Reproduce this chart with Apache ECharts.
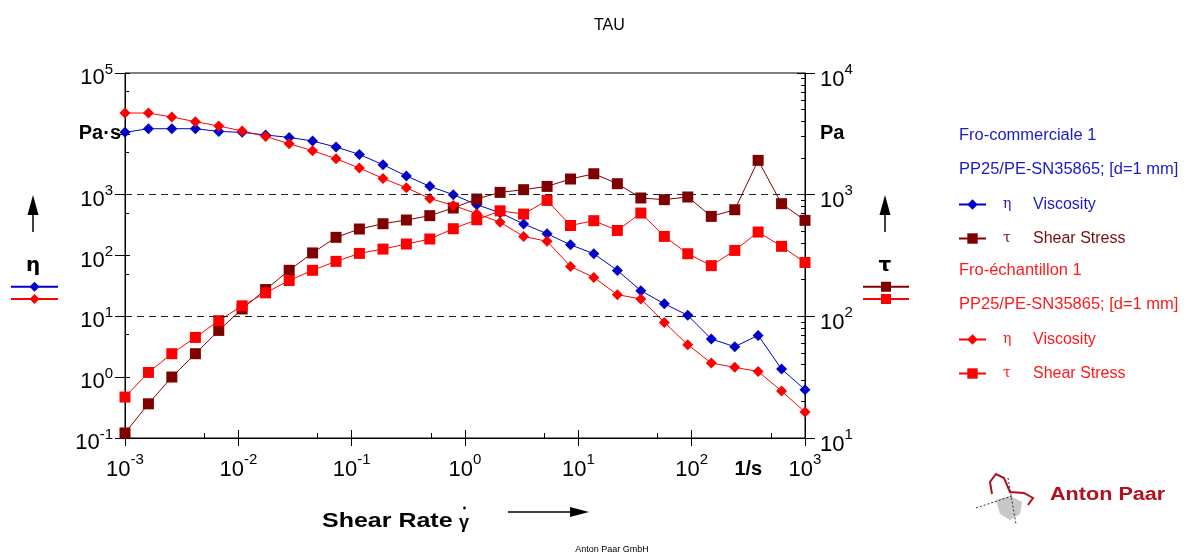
<!DOCTYPE html>
<html>
<head>
<meta charset="utf-8">
<title>TAU</title>
<script src="https://cdn.jsdelivr.net/npm/echarts@6.0.0/dist/echarts.min.js"></script>
<style>
  html, body { margin: 0; padding: 0; background: #fff; }
  #chart { width: 1192px; height: 558px; }
</style>
</head>
<body>
<div id="chart"></div>
<script>
const FONT = '"Liberation Sans", Arial, Helvetica, sans-serif';

// shear rate 1/s (log ramp read from the x positions)
const shearRate = [0.001, 0.00161, 0.00259, 0.00418, 0.00672, 0.0108, 0.0174, 0.0281, 0.0452, 0.0728,
  0.117, 0.189, 0.304, 0.489, 0.788, 1.27, 2.04, 3.29, 5.30, 8.53,
  13.7, 22.1, 35.6, 57.4, 92.4, 149, 240, 386, 621, 1000];
// Fro-commerciale 1
const etaCom = [10570, 12140, 12140, 12140, 10960, 10570, 9570, 8740, 7620, 6070,
  4590, 3110, 2030, 1370, 1000, 684, 505, 330, 228, 150,
  107, 56.9, 26.4, 16.1, 10.4, 4.24, 3.17, 4.86, 1.36, 0.622];
const tauCom = [11.0, 19.1, 31.7, 49.3, 76.6, 115, 166, 239, 332, 446,
  522, 577, 619, 672, 777, 921, 1044, 1099, 1169, 1345,
  1486, 1231, 939, 910, 957, 663, 752, 1914, 843, 615];
// Fro-échantillon 1
const etaSam = [21980, 21980, 18900, 15830, 13450, 11130, 9070, 6880, 5280, 3900,
  2740, 1850, 1300, 868, 666, 486, 352, 206, 171, 66.2,
  43.6, 22.7, 19.3, 7.94, 3.41, 1.71, 1.45, 1.24, 0.592, 0.267];
const tauSam = [21.7, 34.6, 49.3, 67.1, 92.1, 122, 156, 197, 239, 283,
  329, 357, 393, 432, 525, 622, 736, 693, 897, 558,
  611, 508, 706, 454, 327, 261, 348, 493, 376, 277];

// axis decades (exponents) and label places
const xDecades = [-3, -2, -1, 0, 1, 2, 3];
const etaDecades = [-1, 0, 1, 2, 3, 4, 5];
const tauDecades = [1, 2, 3, 4];
const xLabelPos = [-3, -2, -1, 0, 1, 2, 2.5, 3];
const etaLabelPos = [-1, 0, 1, 2, 3, 4, 5];
const tauLabelPos = [1, 2, 3, 3.5, 4];
const guideLines = [1000, 10];

const BLUE = '#0000c8', DRED = '#800000', RED = '#ff0000';

function minorTicks(decades, mults) {
  const out = [];
  decades.slice(0, -1).forEach(d => mults.forEach(m => out.push(d + Math.log10(m))));
  return out;
}
function pairs(ys) { return shearRate.map((x, i) => [x, ys[i]]); }

// decoration axis in log10 space, only ticks / labels
function tickAxis(pos, min, max, ticks, len, inside, extra) {
  return Object.assign({
    type: 'value', position: pos, min: min, max: max,
    axisLine: { show: false, onZero: false }, splitLine: { show: false },
    axisTick: { show: true, inside: inside, length: len, customValues: ticks, lineStyle: { color: '#000', width: 1 } },
    axisLabel: { show: false }
  }, extra || {});
}

const chart = echarts.init(document.getElementById('chart'));

function legendOne(name, top, color) {
  return {
    data: [name], left: 958, top: top, padding: 0, orient: 'vertical',
    itemWidth: 27, itemHeight: 13, selectedMode: false,
    formatter: n => '{g|' + n.charAt(0) + '}{t|' + n.slice(2).replace(/ \(\d\)$/, '') + '}',
    textStyle: {
      color: color, fontFamily: FONT, fontSize: 16,
      rich: {
        g: { fontFamily: '"DejaVu Serif", serif', fontSize: 14, color: color, width: 30, padding: [0, 0, 0, 12] },
        t: { fontFamily: FONT, fontSize: 16, color: color }
      }
    }
  };
}
function header(text, top, color) {
  return { type: 'text', x: 959, y: top, scaleX: 1.03,
    style: { text: text, fill: color, font: '16px ' + FONT, verticalAlign: 'middle' } };
}

const option = {
  animation: false,
  textStyle: { fontFamily: FONT },
  title: { text: 'TAU', left: 589, top: 13, textStyle: { fontFamily: FONT, fontSize: 16, fontWeight: 'normal', color: '#000' } },
  grid: { left: 125, right: 387, top: 73, bottom: 120, containLabel: false, outerBoundsMode: 'none',
    show: true, borderColor: '#000', borderWidth: 1 },
  legend: [
    legendOne('η Viscosity (1)', 196.5, '#1a1ac8'),
    legendOne('τ Shear Stress (1)', 230.5, '#7a0c0c'),
    legendOne('η Viscosity (2)', 331.5, '#ff1a1a'),
    legendOne('τ Shear Stress (2)', 365.5, '#ff1a1a'),
    { data: ['η Viscosity (1)', 'η Viscosity (2)'], left: 10, top: 280.5, orient: 'vertical', padding: 0,
      itemWidth: 47, itemHeight: 12.5, itemGap: 1, selectedMode: false, formatter: () => '' },
    { data: ['τ Shear Stress (1)', 'τ Shear Stress (2)'], left: 862, top: 280.5, orient: 'vertical', padding: 0,
      itemWidth: 46, itemHeight: 12.5, itemGap: 1, selectedMode: false, formatter: () => '' }
  ],
  xAxis: [
    { type: 'log', min: 0.001, max: 1000, show: false },
    tickAxis('bottom', -3, 3, xDecades, 8, false, {
      axisLine: { show: true, onZero: false, lineStyle: { color: '#000', width: 1 } },
      axisLabel: {
        show: true, customValues: xLabelPos, margin: 14, color: '#000',
        formatter: v => v === 2.5 ? '{u|1/s}' : '{b|10}{e|' + v + '}',
        rich: {
          b: { fontFamily: FONT, fontSize: 22, lineHeight: 22, padding: [13, 0, 0, 0], color: '#000' },
          e: { fontFamily: FONT, fontSize: 15, lineHeight: 15, verticalAlign: 'top', color: '#000' },
          u: { fontFamily: FONT, fontSize: 20, fontWeight: 'bold', lineHeight: 22, padding: [13, 0, 0, 0], color: '#000' }
        }
      }
    }),
    tickAxis('bottom', -3, 3, xDecades, 8, true),
    tickAxis('bottom', -3, 3, minorTicks(xDecades, [5]), 5, true)
  ],
  yAxis: [
    { type: 'log', min: 0.1, max: 100000, position: 'left', show: false },
    { type: 'log', min: 10, max: 10000, position: 'right', show: false },
    tickAxis('left', -1, 5, etaDecades, 10, false, {
      axisLine: { show: true, onZero: false, lineStyle: { color: '#000', width: 1 } },
      axisLabel: {
        show: true, customValues: etaLabelPos, margin: 4, color: '#000',
        formatter: v => v === 4 ? '{u|Pa·s}' : '{b|10}{e|' + v + '}',
        rich: {
          b: { fontFamily: FONT, fontSize: 22, lineHeight: 22, padding: [10, 0, 0, 0], color: '#000' },
          e: { fontFamily: FONT, fontSize: 15, lineHeight: 15, verticalAlign: 'top', padding: [0, 8, 0, 0], color: '#000' },
          u: { fontFamily: FONT, fontSize: 20, fontWeight: 'bold', lineHeight: 20, color: '#000' }
        }
      }
    }),
    tickAxis('left', -1, 5, etaDecades, 5, true),
    tickAxis('left', -1, 5, minorTicks(etaDecades, [5]), 4, true),
    tickAxis('right', 1, 4, tauDecades, 10, false, {
      axisLine: { show: true, onZero: false, lineStyle: { color: '#000', width: 1 } },
      axisLabel: {
        show: true, customValues: tauLabelPos, margin: 15, color: '#000',
        formatter: v => v === 3.5 ? '{u|Pa}' : '{b|10}{e|' + v + '}',
        rich: {
          b: { fontFamily: FONT, fontSize: 22, lineHeight: 22, padding: [13, 0, 0, 0], color: '#000' },
          e: { fontFamily: FONT, fontSize: 15, lineHeight: 15, verticalAlign: 'top', color: '#000' },
          u: { fontFamily: FONT, fontSize: 20, fontWeight: 'bold', lineHeight: 20, color: '#000' }
        }
      }
    }),
    tickAxis('right', 1, 4, tauDecades, 8, true),
    tickAxis('right', 1, 4, minorTicks(tauDecades, [2, 3, 4, 5, 6, 7, 8, 9]), 4, true)
  ],
  series: [
    {
      name: 'η Viscosity (1)', type: 'line', xAxisIndex: 0, yAxisIndex: 0, data: pairs(etaCom),
      symbol: 'diamond', symbolSize: 11, color: BLUE, lineStyle: { width: 1, color: BLUE },
      itemStyle: { color: BLUE },
      markLine: {
        silent: true, symbol: ['none', 'none'], label: { show: false },
        lineStyle: { color: '#222', width: 1, type: [7, 5] },
        data: guideLines.map(v => ({ yAxis: v }))
      }
    },
    {
      name: 'τ Shear Stress (1)', type: 'line', xAxisIndex: 0, yAxisIndex: 1, data: pairs(tauCom),
      symbol: 'rect', symbolSize: 11, color: DRED, lineStyle: { width: 1, color: DRED },
      itemStyle: { color: DRED }
    },
    {
      name: 'η Viscosity (2)', type: 'line', xAxisIndex: 0, yAxisIndex: 0, data: pairs(etaSam),
      symbol: 'diamond', symbolSize: 11, color: RED, lineStyle: { width: 1, color: RED },
      itemStyle: { color: RED }
    },
    {
      name: 'τ Shear Stress (2)', type: 'line', xAxisIndex: 0, yAxisIndex: 1, data: pairs(tauSam),
      symbol: 'rect', symbolSize: 11, color: RED, lineStyle: { width: 1, color: RED },
      itemStyle: { color: RED }
    }
  ],
  graphic: [
    // legend headers
    header('Fro-commerciale 1', 136, '#1a1ac8'),
    header('PP25/PE-SN35865; [d=1 mm]', 170, '#1a1ac8'),
    header('Fro-échantillon 1', 271, '#ff1a1a'),
    header('PP25/PE-SN35865; [d=1 mm]', 305, '#ff1a1a'),
    // left axis marker
    { type: 'line', shape: { x1: 33, y1: 232, x2: 33, y2: 212 }, style: { stroke: '#000', lineWidth: 1.5 } },
    { type: 'polygon', shape: { points: [[33, 195], [27.5, 215], [38.5, 215]] }, style: { fill: '#000' } },
    { type: 'text', x: 33, y: 266, style: { text: 'η', fill: '#000', font: 'bold 20px "DejaVu Sans"', align: 'center', verticalAlign: 'middle' } },
    // right axis marker
    { type: 'line', shape: { x1: 885, y1: 232, x2: 885, y2: 212 }, style: { stroke: '#000', lineWidth: 1.5 } },
    { type: 'polygon', shape: { points: [[885, 195], [879.5, 215], [890.5, 215]] }, style: { fill: '#000' } },
    { type: 'text', x: 885, y: 266, style: { text: 'τ', fill: '#000', font: 'bold 20px "DejaVu Sans"', align: 'center', verticalAlign: 'middle' } },
    // x axis name
    { type: 'text', x: 322, y: 521, scaleX: 1.19, style: { text: 'Shear Rate', fill: '#000', font: 'bold 21px ' + FONT, verticalAlign: 'middle' } },
    { type: 'text', x: 464, y: 523, style: { text: 'γ', fill: '#000', font: 'bold 18px ' + FONT, align: 'center', verticalAlign: 'middle' } },
    { type: 'circle', shape: { cx: 464.5, cy: 508, r: 1.4 }, style: { fill: '#000' } },
    { type: 'line', shape: { x1: 508, y1: 512, x2: 574, y2: 512 }, style: { stroke: '#000', lineWidth: 1.5 } },
    { type: 'polygon', shape: { points: [[589, 512], [570, 507], [570, 517]] }, style: { fill: '#000' } },
    // footer
    { type: 'text', x: 612, y: 550, style: { text: 'Anton Paar GmbH', fill: '#000', font: '9px ' + FONT, align: 'center', verticalAlign: 'middle' } },
    // logo
    { type: 'group', children: [
      { type: 'polygon', shape: { points: [[996, 500], [1010, 496], [1022, 502], [1020, 514], [1010, 520], [1000, 514]] }, style: { fill: '#c8c8c8' } },
      { type: 'polyline', shape: { points: [[992, 494], [990, 482], [996, 474], [1004, 478], [1010, 492], [1024, 493], [1033, 498], [1028, 505]] }, style: { stroke: '#b01020', lineWidth: 2, fill: null } },
      { type: 'line', shape: { x1: 976, y1: 508, x2: 1012, y2: 496 }, style: { stroke: '#333', lineWidth: 1, lineDash: [2, 2] } },
      { type: 'line', shape: { x1: 1008, y1: 478, x2: 1016, y2: 524 }, style: { stroke: '#333', lineWidth: 1, lineDash: [2, 2] } },
      { type: 'text', x: 1050, y: 495, scaleX: 1.2, style: { text: 'Anton Paar', fill: '#b01020', font: 'bold 18px ' + FONT, verticalAlign: 'middle' } }
    ] }
  ]
};

chart.setOption(option);
</script>
</body>
</html>
